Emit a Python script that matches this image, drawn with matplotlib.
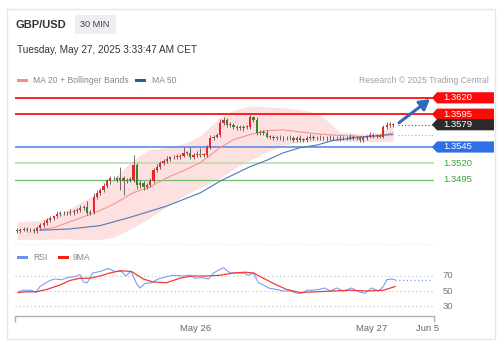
import matplotlib
matplotlib.use("Agg")
import matplotlib.pyplot as plt
import matplotlib.transforms as mtransforms
from matplotlib.patches import Rectangle, Polygon

plt.rcParams['font.family'] = ['Liberation Sans', 'DejaVu Sans']

W, H = 504, 355

# 30 min candles, open of each = previous close
FIRST_OPEN = 1.3419
closes = [
    1.3417, 1.3419, 1.3420, 1.3419, 1.3418, 1.3417, 1.3422, 1.3426, 1.3429, 1.3433,
    1.3437, 1.3439, 1.3443, 1.3445, 1.3444, 1.3445, 1.3446, 1.3448, 1.3449, 1.3452,
    1.3454, 1.3445, 1.3446, 1.3469, 1.3475, 1.3480, 1.3486, 1.3493, 1.3497, 1.3497,
    1.3495, 1.3498, 1.3493, 1.3495, 1.3495, 1.3518, 1.3487, 1.3490, 1.3484, 1.3487,
    1.3493, 1.3510, 1.3515, 1.3521, 1.3524, 1.3527, 1.3529, 1.3530, 1.3530, 1.3532,
    1.3536, 1.3536, 1.3530, 1.3533, 1.3535, 1.3533, 1.3533, 1.3545, 1.3559, 1.3561,
    1.3564, 1.3582, 1.3586, 1.3579, 1.3579, 1.3576, 1.3574, 1.3574, 1.3576, 1.3576,
    1.3590, 1.3586, 1.3567, 1.3568, 1.3567, 1.3561, 1.3561, 1.3559, 1.3559, 1.3558,
    1.3559, 1.3558, 1.3559, 1.3556, 1.3559, 1.3556, 1.3556, 1.3559, 1.3561, 1.3559,
    1.3558, 1.3559, 1.3558, 1.3559, 1.3558, 1.3559, 1.3558, 1.3559, 1.3558, 1.3559,
    1.3561, 1.3559, 1.3558, 1.3556, 1.3559, 1.3561, 1.3564, 1.3562, 1.3562, 1.3561,
    1.3576, 1.3579, 1.3579, 1.3579]
# wick lengths in pips above / below the body
wick_up = [
    3, 2, 3, 3, 2, 3, 3, 3, 4, 3,
    3, 3, 4, 3, 3, 3, 4, 3, 3, 4,
    3, 9, 3, 6, 4, 3, 4, 3, 3, 4,
    3, 17, 3, 3, 4, 15, 3, 4, 3, 3,
    4, 3, 4, 3, 3, 4, 3, 3, 4, 3,
    9, 3, 9, 3, 4, 8, 3, 3, 4, 3,
    3, 6, 5, 3, 4, 3, 3, 4, 3, 3,
    5, 3, 4, 3, 3, 4, 3, 3, 3, 4,
    3, 3, 4, 3, 3, 4, 3, 3, 4, 3,
    3, 4, 3, 3, 4, 3, 3, 4, 3, 3,
    4, 3, 3, 4, 3, 3, 4, 3, 3, 3,
    3, 4, 4, 3]
wick_dn = [
    3, 3, 2, 3, 3, 3, 3, 2, 3, 3,
    3, 4, 3, 3, 3, 3, 3, 4, 3, 3,
    3, 3, 4, 3, 3, 3, 3, 3, 4, 3,
    3, 15, 22, 3, 3, 3, 6, 5, 5, 3,
    3, 3, 3, 4, 3, 3, 3, 3, 3, 4,
    3, 3, 4, 3, 3, 3, 4, 3, 3, 3,
    3, 3, 3, 4, 3, 3, 3, 3, 4, 3,
    3, 3, 4, 3, 3, 3, 4, 3, 3, 3,
    4, 3, 3, 3, 4, 3, 3, 3, 3, 4,
    3, 3, 3, 4, 3, 3, 3, 4, 3, 3,
    3, 4, 3, 3, 3, 4, 3, 3, 3, 3,
    3, 3, 3, 3]

# MA 50 (read at candle positions)
ma50_idx = [6.9, 15.9, 24.9, 34.8, 45.0, 55.0, 61.0, 65.5, 70.0, 75.1, 79.9, 85.0,
            90.1, 94.9, 100.0, 105.1, 109.9, 112.9]
ma50 = [1.3418, 1.3420, 1.3425, 1.3439, 1.3455, 1.3475, 1.3493, 1.3504, 1.3515,
        1.3525, 1.3536, 1.3544, 1.3548, 1.3555, 1.3558, 1.3561, 1.3563, 1.3564]

# MA 20
ma20_idx = [6.9, 11.1, 19.2, 24.9, 29.1, 34.8, 39.9, 45.0, 50.5, 55.0, 61.0, 64.9,
            70.0, 75.1, 79.9, 85.0, 90.1, 95.5, 103.6, 109.0, 112.9]
ma20 = [1.3419, 1.3422, 1.3437, 1.3448, 1.3458, 1.3475, 1.3484, 1.3498, 1.3510,
        1.3521, 1.3544, 1.3556, 1.3564, 1.3570, 1.3571, 1.3568, 1.3565, 1.3563,
        1.3561, 1.3561, 1.3567]

# Bollinger bands
bb_idx = [0.0, 6.9, 12.9, 18.9, 24.9, 29.4, 34.8, 39.9, 45.0, 50.5, 55.0, 61.0,
          65.5, 70.0, 75.1, 79.9, 85.0, 90.1, 93.1, 97.0, 103.0, 109.0, 112.9]
bb_hi = [1.3431, 1.3433, 1.3443, 1.3460, 1.3477, 1.3498, 1.3525, 1.3541, 1.3544,
         1.3551, 1.3562, 1.3590, 1.3602, 1.3608, 1.3606, 1.3605, 1.3602, 1.3597,
         1.3585, 1.3568, 1.3565, 1.3567, 1.3580]
bb_lo = [1.3404, 1.3404, 1.3405, 1.3404, 1.3404, 1.3408, 1.3422, 1.3437, 1.3454,
         1.3472, 1.3483, 1.3498, 1.3513, 1.3525, 1.3538, 1.3547, 1.3553, 1.3554,
         1.3554, 1.3554, 1.3553, 1.3553, 1.3554]

# RSI and its 9 period MA
rsi_idx = [0.4, 1.9, 4.4, 5.7, 6.9, 9.9, 11.4, 13.4, 15.4, 17.4, 18.9, 19.9, 21.1,
           22.7, 24.9, 27.4, 29.4, 31.4, 32.7, 34.1, 34.9, 35.9, 36.9, 38.4, 40.4,
           42.4, 44.9, 46.9, 49.4, 51.9, 53.4, 55.5, 57.5, 59.0, 61.0, 62.0, 64.0,
           66.0, 68.0, 69.5, 71.0, 72.5, 74.0, 75.5, 78.0, 80.0, 82.0, 84.0, 85.5,
           87.0, 88.5, 90.5, 92.5, 94.0, 96.0, 98.0, 100.5, 102.5, 104.5, 106.5,
           108.5, 110.0, 111.0, 112.5, 113.5]
rsi = [49, 51, 51, 48, 56, 64, 66, 65, 68, 69, 72, 62, 61, 74, 76, 80, 76, 76, 70,
       76, 70, 60, 54, 60, 61, 66, 69, 71, 70, 71, 67, 68, 66, 74, 79, 81, 74, 74,
       74, 71, 74, 61, 58, 54, 52, 50, 50, 47, 47, 51, 51, 52, 54, 50, 54, 50, 54,
       49, 47, 54, 50, 56, 65, 66, 65]
ma9_idx = [0.4, 2.9, 5.9, 8.9, 12.9, 15.9, 18.9, 21.9, 24.9, 27.9, 30.9, 34.4, 37.9,
           40.9, 44.9, 48.9, 52.5, 57.0, 61.0, 65.0, 68.5, 71.0, 74.0, 77.0, 81.0,
           85.0, 90.0, 95.0, 100.0, 105.0, 110.0, 113.5]
ma9 = [48, 49, 49, 52, 58, 64, 67, 67, 70, 74, 77, 76, 66, 62, 61, 67, 70, 70, 71,
       74, 75, 74, 67, 60, 52, 48, 49, 50, 51, 50, 51, 56]
rsi_levels = [70, 50, 30]

# key levels
resistances = [1.3620, 1.3595]
pivot = 1.3545
supports = [1.3520, 1.3495]
arrow_from = (114.7, 1.3582)
arrow_to = (124.0, 1.3618)

date_ticks = [53.5, 106.6, 123.4]
date_labels = ["May 26", "May 27", "Jun 5"]
XLIM = (-0.6, 125.2)
YLIM = (1.3397, 1.3635)


def px_rect(x0, y0, x1, y1):
    return [x0 / W, 1 - y1 / H, (x1 - x0) / W, (y1 - y0) / H]


fig = plt.figure(figsize=(W / 100, H / 100), dpi=100)
fig.patch.set_facecolor("white")

# card frame
fig.add_artist(Rectangle((7 / W, 1 - 339 / H), 488 / W, 330 / H, transform=fig.transFigure,
                         fill=False, ec="#e6e6e6", lw=1))

# header
fig.text(15 / W, 1 - 25 / H, "GBP/USD", fontsize=8, fontweight="bold", color="#333333", va="center")
fig.add_artist(Rectangle((75 / W, 1 - 34 / H), 41 / W, 19 / H, transform=fig.transFigure,
                         fc="#eceef1", ec="none"))
fig.text(80 / W, 1 - 24.5 / H, "30 MIN", fontsize=6.6, color="#444444", va="center")
fig.text(17 / W, 1 - 50 / H, "Tuesday, May 27, 2025 3:33:47 AM CET", fontsize=7.2,
         color="#333333", va="center")

# legend of price panel
fig.add_artist(Rectangle((17 / W, 1 - 82 / H), 11 / W, 3.5 / H, transform=fig.transFigure,
                         fc="#f78a8a", ec="none"))
fig.text(33 / W, 1 - 80.5 / H, "MA 20 + Bollinger Bands", fontsize=6.2, color="#888888", va="center")
fig.add_artist(Rectangle((135 / W, 1 - 82 / H), 11 / W, 3.5 / H, transform=fig.transFigure,
                         fc="#2c5aa0", ec="none"))
fig.text(152 / W, 1 - 80.5 / H, "MA 50", fontsize=6.2, color="#888888", va="center")
fig.text(489 / W, 1 - 80.5 / H, "Research \u00a9 2025 Trading Central", fontsize=6.2,
         color="#a0a0a0", va="center", ha="right")

# price panel
ax = fig.add_axes(px_rect(15, 88, 434, 244))
ax.set_xlim(*XLIM)
ax.set_ylim(*YLIM)
ax.axis("off")

ax.fill_between(bb_idx, bb_lo, bb_hi, color="#fde1e1", lw=0, zorder=1)

ax.axhline(resistances[0], color="#ff1f1f", lw=1.4, zorder=2)
ax.axhline(resistances[1], color="#ff1f1f", lw=1.4, zorder=2)
ax.axhline(pivot, color="#5b8be6", lw=1.2, zorder=2)
ax.axhline(supports[0], color="#bcdcb2", lw=1.2, zorder=2)
ax.axhline(supports[1], color="#6cc06c", lw=0.9, zorder=2)

ax.plot(ma20_idx, ma20, color="#f39494", lw=0.8, zorder=3)
ax.plot(ma50_idx, ma50, color="#5177ba", lw=0.8, zorder=3)

# candles
idx = list(range(len(closes)))
opens = [FIRST_OPEN] + closes[:-1]
highs = [max(o, c) + u * 0.0001 for o, c, u in zip(opens, closes, wick_up)]
lows = [min(o, c) - d * 0.0001 for o, c, d in zip(opens, closes, wick_dn)]
ax.vlines(idx, lows, highs, color="#555555", lw=0.6, zorder=4)
colors = ["#e8262a" if c >= o else "#2e8a2e" for o, c in zip(opens, closes)]
heights = [max(abs(c - o), 0.00009) for o, c in zip(opens, closes)]
bottoms = [min(o, c) for o, c in zip(opens, closes)]
ax.bar(idx, heights, bottom=bottoms, width=0.66, color=colors, lw=0, zorder=5)

# last price / ma extension dots
ax.plot([idx[-1] + 1.5, XLIM[1]], [closes[-1], closes[-1]], ls=(0, (1, 2)), color="#555555", lw=0.8)
ax.plot([idx[-1] + 1.5, XLIM[1]], [ma50[-1], ma50[-1]], ls=(0, (1, 2)), color="#8fb0e8", lw=0.8)

ax.annotate("", xy=arrow_to, xytext=arrow_from,
            arrowprops=dict(arrowstyle="-|>,head_length=0.6,head_width=0.35", color="#2d6bb5",
                            lw=2.2, shrinkA=0, shrinkB=0), zorder=6)

# right hand tags
trans = mtransforms.blended_transform_factory(ax.transAxes, ax.transData)
half = 5.6 * (YLIM[1] - YLIM[0]) / 156
tip_x, box_x0, box_x1, text_x = 0.9952, 1.0072, 1.1432, 1.0215


def tag(level, face):
    ax.add_patch(Polygon([(tip_x, level), (box_x0, level + half), (box_x1, level + half),
                          (box_x1, level - half), (box_x0, level - half)], closed=True,
                         transform=trans, fc=face, ec="none", clip_on=False, zorder=7))
    ax.text(text_x, level, f"{level:.4f}", transform=trans, color="white", fontsize=6.8,
            va="center", ha="left", clip_on=False, zorder=8)


tag(resistances[0], "#ff0a0a")
tag(resistances[1], "#ff0a0a")
tag(closes[-1], "#2b2b2b")
tag(pivot, "#2f6fe6")
for s in supports:
    ax.text(text_x, s, f"{s:.4f}", transform=trans, color="#3f9e3f", fontsize=6.8,
            va="center", ha="left", clip_on=False)

# separator under price panel
fig.add_artist(plt.Line2D([15 / W, 434 / W], [1 - 244 / H] * 2, transform=fig.transFigure,
                          color="#eeeeee", lw=0.8, ls=(0, (2, 2))))

# RSI legend
fig.add_artist(Rectangle((17 / W, 1 - 259 / H), 11 / W, 3.5 / H, transform=fig.transFigure,
                         fc="#6f92ec", ec="none"))
fig.text(33 / W, 1 - 257.5 / H, "RSI", fontsize=6.2, color="#888888", va="center")
fig.add_artist(Rectangle((58 / W, 1 - 259 / H), 11 / W, 3.5 / H, transform=fig.transFigure,
                         fc="#ff1a1a", ec="none"))
fig.text(73 / W, 1 - 257.5 / H, "9MA", fontsize=6.2, color="#888888", va="center")

# RSI panel
rax = fig.add_axes(px_rect(15, 266, 434, 316))
rax.set_xlim(*XLIM)
rax.set_ylim(16.7, 83.3)
for s in ["top", "left", "right"]:
    rax.spines[s].set_visible(False)
rax.spines["bottom"].set_color("#b0b0b0")
rax.spines["bottom"].set_linewidth(1)
rax.set_yticks([])
rax.set_xticks(date_ticks, date_labels)
rax.tick_params(axis="x", which="major", length=0, pad=6, labelsize=6.8, labelcolor="#666666")
rax.set_xticks(list(XLIM), minor=True)
rax.tick_params(axis="x", which="minor", length=4, color="#b0b0b0", width=1, direction="out")
rax.patch.set_alpha(0)

for lv in rsi_levels:
    rax.axhline(lv, color="#c4c4c4", lw=0.8, ls=(0, (1, 2.5)))
    rax.text(1.021, lv, str(lv), transform=mtransforms.blended_transform_factory(rax.transAxes, rax.transData),
             fontsize=6.8, color="#777777", va="center", ha="left", clip_on=False)

rax.plot(rsi_idx, rsi, color="#7d9ef2", lw=0.8)
rax.plot([rsi_idx[-1], 124.5], [rsi[-1], rsi[-1]], color="#7d9ef2", lw=0.9, ls=(0, (1, 2)))
rax.plot(ma9_idx, ma9, color="#f03a3a", lw=0.9)

fig.savefig("out.png", dpi=100)
